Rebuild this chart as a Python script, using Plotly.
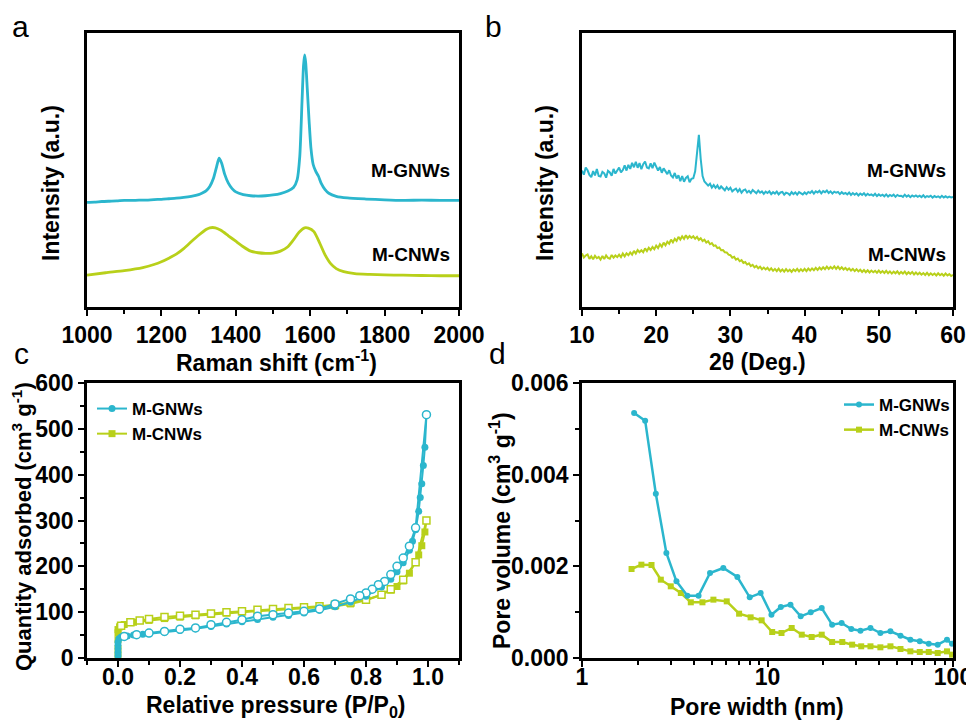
import numpy as np
import plotly.graph_objects as go

W, H = 974, 721
OFF = 8  # page body margin of the browser
CYAN = "#2BB6CD"
GREEN = "#B8D01A"
FONT = "Liberation Sans, Arial, sans-serif"

# ---------------- (a) Raman ----------------
raman_g_x = [1000, 1020, 1040, 1060, 1080, 1100, 1120, 1140, 1160, 1180, 1200, 1220, 1240, 1260, 1280,
             1300, 1310, 1320, 1330, 1340, 1348, 1355, 1362, 1370, 1380, 1390, 1400, 1420, 1440, 1460,
             1480, 1500, 1520, 1540, 1555, 1565, 1572, 1578, 1582, 1585, 1588, 1592, 1597, 1602, 1608,
             1615, 1622, 1630, 1640, 1650, 1670, 1700, 1750, 1800, 1850, 1900, 1950, 2000]
raman_g_y = [38.2, 38.3, 38.5, 38.6, 38.7, 38.9, 38.9, 39.0, 39.0, 39.2, 39.3, 39.5, 39.7, 40.0, 40.4,
             41.0, 41.6, 42.4, 44.0, 47.0, 51.0, 54.3, 52.5, 48.5, 45.2, 43.2, 42.0, 41.0, 40.6, 40.5,
             40.6, 40.9, 41.4, 42.3, 43.6, 46.5, 55.0, 75.0, 88.0, 92.0, 89.0, 80.0, 68.0, 58.0, 52.0,
             49.5, 47.8, 45.0, 42.8, 41.5, 40.4, 39.8, 39.4, 39.1, 38.9, 39.0, 38.9, 38.9]
raman_c_x = [1000, 1050, 1100, 1150, 1180, 1200, 1220, 1240, 1260, 1280, 1300, 1320, 1330, 1345, 1360,
             1380, 1400, 1420, 1440, 1460, 1480, 1500, 1520, 1540, 1555, 1570, 1585, 1595, 1610, 1625,
             1640, 1655, 1670, 1690, 1720, 1760, 1800, 1850, 1900, 1950, 2000]
raman_c_y = [11.6, 12.5, 13.3, 14.4, 15.5, 16.5, 17.8, 19.3, 21.3, 23.8, 26.2, 28.3, 28.9, 28.9, 28.0,
             26.0, 24.0, 22.0, 20.4, 19.8, 19.6, 19.7, 20.4, 22.0, 24.5, 27.3, 28.9, 28.8, 27.5, 23.5,
             19.0, 15.8, 14.0, 12.9, 12.2, 11.9, 11.7, 11.6, 11.5, 11.4, 11.4]

# ---------------- (b) XRD (2θ from 10 to 60, step 0.25) ----------------
xrd_start, xrd_stop, xrd_step = 10.0, 60.0, 0.25
xrd_g_y = [
    49.8, 48.3, 50.9, 49.9, 48.2, 47.4, 49.6, 48.0, 50.4, 47.8, 47.6, 49.3, 48.8, 47.2, 49.7, 49.1, 47.9, 50.4, 48.7, 49.9,
    50.9, 49.1, 50.0, 51.7, 49.8, 51.9, 50.4, 52.6, 51.0, 53.0, 50.8, 52.5, 50.3, 52.1, 53.1, 50.9, 50.6, 52.4, 50.7, 52.7,
    51.5, 49.8, 51.1, 49.0, 50.6, 49.4, 48.5, 49.9, 48.0, 47.3, 48.9, 46.9, 48.1, 45.9, 47.8, 45.7, 47.1, 47.7, 45.5, 46.8,
    47.0, 49.5, 56.0, 62.8, 54.0, 47.8, 45.8, 45.2, 44.3, 45.0, 43.6, 44.5, 43.5, 44.4, 43.0, 44.0, 43.4, 42.6, 43.7, 42.8,
    43.5, 42.2, 42.8, 43.2, 42.1, 43.0, 41.7, 42.6, 42.9, 41.8, 42.4, 41.6, 42.7, 41.9, 41.5, 42.5, 41.7, 42.2, 41.3, 42.1,
    41.6, 42.2, 41.2, 41.9, 41.4, 42.1, 41.1, 41.8, 42.0, 41.0, 41.7, 41.5, 40.9, 41.9, 41.2, 41.8, 41.0, 41.9, 41.5, 41.1,
    41.8, 41.2, 42.0, 41.6, 42.3, 41.4, 42.2, 41.8, 42.4, 41.5, 42.3, 41.9, 42.5, 41.6, 42.2, 41.4, 42.1, 41.7, 42.0, 41.2,
    41.9, 41.3, 41.6, 41.1, 41.8, 40.9, 41.6, 41.0, 41.5, 40.7, 41.4, 40.9, 41.5, 40.7, 41.3, 40.8, 41.1, 40.6, 41.3, 40.5,
    41.1, 40.6, 41.0, 40.4, 41.1, 40.3, 40.9, 40.5, 41.0, 40.2, 40.9, 40.5, 40.6, 40.2, 41.0, 40.3, 40.8, 40.1, 40.7, 40.3,
    40.7, 40.2, 40.6, 40.1, 40.8, 40.0, 40.5, 40.2, 40.6, 39.9, 40.5, 40.1, 40.4, 39.9, 40.6, 40.0, 40.4, 39.9, 40.3, 40.0, 40.2]
xrd_c_y = [
    19.6, 18.1, 18.8, 19.2, 17.6, 18.5, 17.4, 18.7, 17.8, 18.3, 17.3, 18.6, 17.5, 18.8, 17.9, 17.6, 19.0, 18.0, 18.8, 18.2,
    19.1, 18.2, 19.5, 18.5, 19.6, 18.9, 19.9, 19.1, 20.5, 19.5, 20.8, 20.0, 20.7, 20.0, 21.4, 20.4, 21.6, 20.8, 21.9, 21.1,
    22.4, 21.5, 22.9, 22.0, 23.5, 22.5, 23.8, 23.1, 24.6, 23.6, 24.9, 24.1, 25.6, 24.6, 25.8, 24.9, 26.2, 25.1, 25.9, 25.2,
    25.8, 24.9, 25.6, 24.5, 25.1, 24.1, 24.6, 23.5, 24.0, 22.9, 23.3, 22.3, 22.5, 21.5, 21.7, 20.7, 20.8, 20.0, 19.9, 19.1,
    18.9, 18.0, 18.3, 17.3, 17.7, 16.7, 17.1, 16.1, 16.4, 15.5, 15.9, 14.9, 15.4, 14.5, 15.0, 14.1, 14.7, 13.8, 14.4, 13.7,
    14.3, 13.4, 14.1, 13.2, 13.9, 13.1, 14.0, 13.0, 13.7, 12.9, 13.8, 13.0, 13.6, 12.8, 13.7, 13.1, 13.9, 13.0, 13.8, 13.1,
    13.9, 13.1, 14.0, 13.3, 14.1, 13.4, 14.3, 13.5, 14.4, 13.7, 14.5, 13.8, 14.7, 13.9, 14.6, 14.0, 14.8, 13.9, 14.7, 13.8,
    14.5, 13.7, 14.3, 13.5, 14.1, 13.3, 13.9, 13.1, 13.8, 13.0, 13.6, 12.8, 13.5, 12.7, 13.4, 12.6, 13.3, 12.7, 13.2, 12.5,
    13.3, 12.5, 13.1, 12.4, 13.2, 12.3, 13.0, 12.2, 12.9, 12.3, 13.0, 12.1, 12.8, 12.2, 12.9, 12.0, 12.7, 12.1, 12.8, 11.9,
    12.6, 11.9, 12.5, 11.8, 12.4, 11.7, 12.5, 11.6, 12.3, 11.7, 12.2, 11.5, 12.3, 11.6, 12.1, 11.4, 12.2, 11.5, 12.0, 11.3, 11.7]
xrd_x = list(np.round(np.arange(xrd_start, xrd_stop + xrd_step / 2, xrd_step), 2))

# ---------------- (c) N2 isotherms ----------------
gnw_ads_p = [0.0, 0.0, 0.0, 0.0, 0.0, 0.003, 0.01, 0.03, 0.05, 0.08, 0.1, 0.15, 0.2, 0.25, 0.3, 0.35, 0.4,
             0.45, 0.5, 0.55, 0.6, 0.65, 0.7, 0.75, 0.8, 0.85, 0.88, 0.9, 0.92, 0.94, 0.95, 0.96, 0.97,
             0.975, 0.98, 0.985, 0.99, 0.995]
gnw_ads_q = [5, 12, 20, 28, 35, 42, 46, 48, 50, 52, 53, 56, 60, 64, 69, 74, 79, 84, 89, 93, 98, 104, 112,
             122, 135, 155, 172, 188, 208, 235, 255, 280, 320, 350, 380, 420, 460, 531]
gnw_des_p = [0.995, 0.96, 0.94, 0.92, 0.9, 0.88, 0.86, 0.84, 0.82, 0.8, 0.78, 0.75, 0.7, 0.65, 0.6, 0.55,
             0.5, 0.45, 0.4, 0.35, 0.3, 0.25, 0.2, 0.15, 0.1, 0.06, 0.02]
gnw_des_q = [531, 284, 244, 218, 200, 182, 167, 160, 150, 142, 136, 129, 118, 107, 102, 98, 94.5, 91, 83.6,
             78, 72.7, 65.5, 63, 58, 54.5, 51, 47]
cnw_ads_p = [0.0, 0.0, 0.0, 0.0, 0.0, 0.005, 0.02, 0.05, 0.1, 0.15, 0.2, 0.25, 0.3, 0.35, 0.4, 0.45, 0.5,
             0.55, 0.6, 0.65, 0.7, 0.75, 0.8, 0.85, 0.88, 0.9, 0.92, 0.94, 0.96, 0.97, 0.98, 0.99, 0.995]
cnw_ads_q = [5, 20, 40, 55, 62, 68, 73, 78, 82, 86, 89, 92, 95, 98, 100, 102, 104, 106, 108, 110, 113, 118,
             126, 138, 148, 156, 168, 185, 210, 225, 245, 275, 300]
cnw_des_p = [0.995, 0.96, 0.92, 0.88, 0.85, 0.8, 0.75, 0.7, 0.65, 0.6, 0.55, 0.5, 0.45, 0.4, 0.35, 0.3,
             0.25, 0.2, 0.15, 0.1, 0.07, 0.04, 0.01]
cnw_des_q = [300, 209, 171, 150, 138, 127, 121, 116, 112.7, 110.5, 109, 107, 105.5, 102, 99.6, 97, 94.5,
             92, 89.5, 85, 82, 78, 70.5]

# ---------------- (d) Pore size distribution ----------------
psd_g_w = [1.91, 2.19, 2.50, 2.85, 3.23, 3.70, 4.25, 4.90, 5.78, 6.88, 8.02, 9.19, 10.5, 11.8, 13.3, 15.1,
           17.1, 19.6, 22.3, 25.1, 28.3, 31.7, 35.9, 40.6, 46.0, 52.1, 58.9, 66.2, 74.0, 82.7, 92.8, 98.8]
psd_g_v = [0.005345, 0.005178, 0.003585, 0.002291, 0.001673, 0.00136, 0.00136, 0.001855, 0.001964,
           0.001767, 0.001324, 0.001418, 0.000945, 0.001113, 0.001164, 0.000909, 0.000996, 0.001091,
           0.000727, 0.000764, 0.000633, 0.000596, 0.000655, 0.000545, 0.000582, 0.000487, 0.0004,
           0.000364, 0.000313, 0.000291, 0.0004, 0.000313]
psd_c_w = [1.85, 2.09, 2.37, 2.66, 3.01, 3.41, 3.86, 4.46, 5.11, 6.03, 7.03, 8.11, 9.30, 10.6, 11.9, 13.5,
           15.3, 17.3, 19.6, 22.3, 25.3, 28.6, 32.0, 35.9, 40.6, 46.0, 52.1, 58.9, 66.2, 74.0, 82.7, 92.8, 98.8]
psd_c_v = [0.001942, 0.002036, 0.002029, 0.001709, 0.001564, 0.001418, 0.001215, 0.001215, 0.001273,
           0.001236, 0.000967, 0.000887, 0.000822, 0.000567, 0.000545, 0.000655, 0.000509, 0.000458,
           0.000509, 0.000349, 0.000349, 0.000291, 0.000255, 0.000255, 0.000233, 0.000255, 0.000196,
           0.000145, 0.000131, 0.000131, 0.000109, 0.000145, 0.000073]

# tick labels
ticks_a = [1000, 1200, 1400, 1600, 1800, 2000]
ticks_b = [10, 20, 30, 40, 50, 60]
ticks_cx = [0.0, 0.2, 0.4, 0.6, 0.8, 1.0]
ticks_cy = [0, 100, 200, 300, 400, 500, 600]
ticks_dx = [1, 10, 100]
ticks_dy = [0.0, 0.002, 0.004, 0.006]

# ---------------- figure ----------------
FW, FH = W - OFF, H - OFF

def px_x(p):
    return (p - OFF) / FW

def px_y(p):
    return 1 - (p - OFF) / FH

def bold_labels(vals, fmt):
    return ["<b>" + fmt.format(v) + "</b>" for v in vals]

fig = go.Figure()

# (a)
fig.add_trace(go.Scatter(x=raman_g_x, y=raman_g_y, mode="lines", line=dict(color=CYAN, width=2.8, shape="spline", smoothing=0.6),
                         xaxis="x", yaxis="y", showlegend=False))
fig.add_trace(go.Scatter(x=raman_c_x, y=raman_c_y, mode="lines", line=dict(color=GREEN, width=2.8, shape="spline", smoothing=0.6),
                         xaxis="x", yaxis="y", showlegend=False))
# (b)
fig.add_trace(go.Scatter(x=xrd_x, y=xrd_g_y, mode="lines", line=dict(color=CYAN, width=2),
                         xaxis="x2", yaxis="y2", showlegend=False))
fig.add_trace(go.Scatter(x=xrd_x, y=xrd_c_y, mode="lines", line=dict(color=GREEN, width=2),
                         xaxis="x2", yaxis="y2", showlegend=False))
# (c)
fig.add_trace(go.Scatter(x=cnw_ads_p, y=cnw_ads_q, mode="lines+markers", name="M-CNWs",
                         line=dict(color=GREEN, width=2), marker=dict(symbol="square", size=7, color=GREEN),
                         xaxis="x3", yaxis="y3", legend="legend", legendrank=2))
fig.add_trace(go.Scatter(x=cnw_des_p, y=cnw_des_q, mode="lines+markers", name="M-CNWs des",
                         line=dict(color=GREEN, width=2),
                         marker=dict(symbol="square", size=7, color="white", line=dict(color=GREEN, width=1.5)),
                         xaxis="x3", yaxis="y3", showlegend=False))
fig.add_trace(go.Scatter(x=gnw_ads_p, y=gnw_ads_q, mode="lines+markers", name="M-GNWs",
                         line=dict(color=CYAN, width=2), marker=dict(symbol="circle", size=7, color=CYAN),
                         xaxis="x3", yaxis="y3", legend="legend", legendrank=1))
fig.add_trace(go.Scatter(x=gnw_des_p, y=gnw_des_q, mode="lines+markers", name="M-GNWs des",
                         line=dict(color=CYAN, width=2),
                         marker=dict(symbol="circle", size=8, color="white", line=dict(color=CYAN, width=1.5)),
                         xaxis="x3", yaxis="y3", showlegend=False))
# (d)
fig.add_trace(go.Scatter(x=psd_c_w, y=psd_c_v, mode="lines+markers", name="M-CNWs",
                         line=dict(color=GREEN, width=2.5), marker=dict(symbol="square", size=6, color=GREEN),
                         xaxis="x4", yaxis="y4", legend="legend2", legendrank=2))
fig.add_trace(go.Scatter(x=psd_g_w, y=psd_g_v, mode="lines+markers", name="M-GNWs",
                         line=dict(color=CYAN, width=2.5), marker=dict(symbol="circle", size=6, color=CYAN),
                         xaxis="x4", yaxis="y4", legend="legend2", legendrank=1))

tickfont = dict(family=FONT, size=23, color="black")
minor_style = dict(ticks="outside", ticklen=4, tickwidth=2, tickcolor="black")
axis_common = dict(showline=True, linecolor="black", linewidth=2.5, mirror=True, showgrid=False,
                   zeroline=False, ticks="outside", ticklen=6, tickwidth=2, tickcolor="black",
                   tickfont=tickfont, automargin=False)

dom_ax_a = [px_x(87), px_x(459)]
dom_ax_b = [px_x(582), px_x(953)]
dom_y_top = [px_y(307), px_y(33)]
dom_y_bot = [px_y(658), px_y(383)]

fig.update_layout(
    width=FW, height=FH, margin=dict(l=0, r=0, t=0, b=0, autoexpand=False),
    paper_bgcolor="white", plot_bgcolor="white",
    font=dict(family=FONT, color="black"),
    xaxis=dict(axis_common, domain=dom_ax_a, anchor="y", range=[1000, 2000],
               tickvals=ticks_a, ticktext=bold_labels(ticks_a, "{:d}"),
               minor=dict(minor_style, dtick=100)),
    yaxis=dict(axis_common, domain=dom_y_top, anchor="x", range=[0, 100], ticks="", showticklabels=False),
    xaxis2=dict(axis_common, domain=dom_ax_b, anchor="y2", range=[10, 60],
                tickvals=ticks_b, ticktext=bold_labels(ticks_b, "{:d}"),
                minor=dict(minor_style, dtick=5)),
    yaxis2=dict(axis_common, domain=dom_y_top, anchor="x2", range=[0, 100], ticks="", showticklabels=False),
    xaxis3=dict(axis_common, domain=dom_ax_a, anchor="y3", range=[-0.1, 1.1],
                tickvals=ticks_cx, ticktext=bold_labels(ticks_cx, "{:.1f}"),
                ticklabelstandoff=-9,
                minor=dict(minor_style, tick0=0, dtick=0.1)),
    yaxis3=dict(axis_common, domain=dom_y_bot, anchor="x3", range=[0, 600],
                tickvals=ticks_cy, ticktext=bold_labels(ticks_cy, "{:d}"),
                minor=dict(minor_style, dtick=50)),
    xaxis4=dict(axis_common, domain=dom_ax_b, anchor="y4", type="log", range=[0, 2],
                tickvals=ticks_dx, ticktext=bold_labels(ticks_dx, "{:d}"),
                ticklabelstandoff=-9,
                minor=dict(minor_style, tickvals=[2, 3, 4, 5, 6, 7, 8, 9, 20, 30, 40, 50, 60, 70, 80, 90])),
    yaxis4=dict(axis_common, domain=dom_y_bot, anchor="x4", range=[0, 0.006],
                tickvals=ticks_dy, ticktext=bold_labels(ticks_dy, "{:.3f}"),
                minor=dict(minor_style, dtick=0.001)),
    legend=dict(x=px_x(92), y=px_y(391), xanchor="left", yanchor="top", bgcolor="rgba(0,0,0,0)",
                font=dict(family=FONT, size=17, color="black", weight="bold"),
                tracegroupgap=0, itemwidth=30, traceorder="normal"),
    legend2=dict(x=px_x(955), y=px_y(387), xanchor="right", yanchor="top", bgcolor="rgba(0,0,0,0)",
                 font=dict(family=FONT, size=17, color="black", weight="bold"),
                 tracegroupgap=0, itemwidth=30, traceorder="normal"),
)

ann = []
def add_text(text, x, y, size, bold=True, angle=0, xanchor="center"):
    ann.append(dict(text=text, x=px_x(x), y=px_y(y), xref="paper", yref="paper", showarrow=False,
                    textangle=angle, xanchor=xanchor, yanchor="middle",
                    font=dict(family=FONT, size=size, color="black", weight="bold" if bold else "normal")))

# panel letters
add_text("a", 20, 26, 30, bold=False)
add_text("b", 493, 26, 30, bold=False)
add_text("c", 21, 353, 30, bold=False)
add_text("d", 497, 353, 30, bold=False)
# axis titles
add_text("Raman shift (cm<sup>-1</sup>)", 276, 361, 23)
add_text("2θ (Deg.)", 757, 362, 23)
add_text("Relative pressure (P/P<sub>0</sub>)", 276, 706, 23)
add_text("Pore width (nm)", 757, 707, 23)
add_text("Intensity (a.u.)", 51, 183, 23, angle=-90)
add_text("Intensity (a.u.)", 545, 183, 23, angle=-90)
add_text("Quantity adsorbed (cm<sup>3</sup> g<sup>-1</sup>)", 22, 527, 22, angle=-90)
add_text("Pore volume (cm<sup>3</sup> g<sup>-1</sup>)", 500, 530, 23, angle=-90)
# curve labels
add_text("M-GNWs", 452, 170, 19, xanchor="right")
add_text("M-CNWs", 452, 255, 19, xanchor="right")
add_text("M-GNWs", 948, 170, 19, xanchor="right")
add_text("M-CNWs", 948, 255, 19, xanchor="right")
fig.update_layout(annotations=ann)

fig.write_html("out.html")
